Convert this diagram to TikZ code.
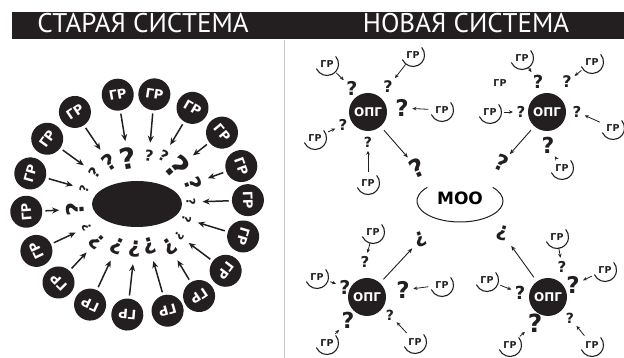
\documentclass[tikz,border=0pt]{standalone}
\usepackage{fontspec}
\setmainfont{PT Sans}
\newfontfamily\heavyfont{DejaVu Sans}
\usetikzlibrary{arrows.meta,shapes.geometric}

\definecolor{ink}{RGB}{35,31,32}
\definecolor{rulegray}{RGB}{200,200,200}
\newcommand{\fsz}[1]{\fontsize{#1}{#1}\selectfont}

\tikzset{
  title/.style={anchor=base, text=white, inner sep=0pt, font=\fsz{27}},
  grdot/.style={circle, fill=ink, minimum size=32pt, inner sep=0pt, text=white,
    font=\heavyfont\bfseries\fsz{13}},
  opg/.style={circle, fill=ink, minimum size=38pt, inner sep=0pt, text=white,
    font=\heavyfont\bfseries\fsz{12}},
  grlab/.style={inner sep=1pt, text=ink, font=\heavyfont\bfseries\fsz{9.5}},
  qm/.style={inner sep=0pt, text=ink, font=\heavyfont\bfseries\fsz{#1}},
  ringarrow/.style={-{Stealth[length=7pt,width=6pt]}, line width=1.5pt, draw=ink,
    shorten <=3pt, shorten >=7pt},
  feedarrow/.style={-{Stealth[length=4pt,width=3.5pt]}, line width=0.8pt, draw=ink,
    shorten <=6pt, shorten >=3.5pt},
  linkarrow/.style={-{Stealth[length=5pt,width=4pt]}, line width=0.9pt, draw=ink,
    shorten <=5pt},
  smile/.style={draw=ink, line width=1.1pt, line cap=round}
}

\begin{document}
\begin{tikzpicture}[x=1pt,y=1pt]
  \useasboundingbox (0,0) rectangle (624,358);

  % header
  \fill[ink] (12,319) rectangle (624,346);
  \node[title] (oldtitle) at (143,325) {СТАРАЯ СИСТЕМА};
  \node[title] (newtitle) at (466,325) {НОВАЯ СИСТЕМА};
  \draw[rulegray, line width=1pt] (284,0) -- (284,318);

  % old system: ring round one centre
  \begin{scope}[shift={(137,154)}]
    \node[ellipse, fill=ink, minimum width=90pt, minimum height=46pt, inner sep=0pt] (core) at (0,0) {};
    \foreach \a/\b/\r/\s [count=\i] in {2/2/54/12, 20/20/60/22, 40/42/55/32,
        60/61/55/15, 81/76/50/15, 100/101/46/29, 124/124/50/22, 144/144/53/15,
        164/164/55/12, 184/185/62/24, 205/205/56/12, 225/223/55/21,
        245/245/47/22, 265/267/45/22, 286/286/44/22, 304/307/54/22,
        323/323/53/12, 343/343/52/12} {
      \node[grdot, rotate=\a-90] (g\i) at (\a:111) {ГР};
      \node[qm=\s, rotate=\a-90] (q\i) at (\b:\r) {?};
      \draw[ringarrow] (g\i) -- (q\i);
    }
  \end{scope}

  % new system: four groups round one office
  \node[font=\heavyfont\bfseries\fsz{17}, inner sep=0pt] (moo) at (460,160) {МОО};
  \draw[smile, line width=1pt] (460,157) ++(140:43 and 21) arc[start angle=140, end angle=400, x radius=43, y radius=21];

  % top left
  \node[opg] (A) at (368,246) {ОПГ};
  \node[grlab] (ga1) at (327,294) {ГР};
  \node[grlab] (ga2) at (413,303) {ГР};
  \node[grlab] (ga3) at (442,248) {ГР};
  \node[grlab] (ga4) at (315,220) {ГР};
  \node[grlab] (ga5) at (368,175) {ГР};
  \node[qm=19] (qa1) at (352,270) {?};
  \node[qm=16] (qa2) at (388,271) {?};
  \node[qm=23] (qa3) at (402,250) {?};
  \node[qm=15] (qa4) at (343,233) {?};
  \node[qm=14] (qa5) at (368,216) {?};
  \node[qm=25, rotate=25] (qa6) at (417,190) {?};
  \foreach \n in {1,...,5} \draw[feedarrow] (ga\n) -- (qa\n);
  \draw[linkarrow, shorten >=4pt] (A) -- (qa6);

  % top right
  \node[opg] (B) at (547,246) {ОПГ};
  \node[grlab] (gb1) at (522,300) {ГР};
  \node[grlab] (gb2) at (500,275) {ГР};
  \node[grlab] (gb3) at (592,296) {ГР};
  \node[grlab] (gb4) at (490,246) {ГР};
  \node[grlab] (gb5) at (613,230) {ГР};
  \node[grlab] (gb6) at (562,190) {ГР};
  \node[qm=18] (qb1) at (538,276) {?};
  \node[qm=16] (qb3) at (567,276) {?};
  \node[qm=15] (qb4) at (521,246) {?};
  \node[qm=15] (qb5) at (577,246) {?};
  \node[qm=22] (qb6) at (548,213) {?};
  \node[qm=22, rotate=-25] (qb7) at (502,195) {?};
  \foreach \n in {1,3,4,5,6} \draw[feedarrow] (gb\n) -- (qb\n);
  \draw[linkarrow, shorten >=3pt] (B) -- (qb7);

  % bottom left
  \node[opg] (C) at (367,61) {ОПГ};
  \node[grlab] (gc1) at (373,126) {ГР};
  \node[grlab] (gc2) at (317,81) {ГР};
  \node[grlab] (gc3) at (442,73) {ГР};
  \node[grlab] (gc4) at (327,15) {ГР};
  \node[grlab] (gc5) at (415,16) {ГР};
  \node[qm=15] (qc1) at (365,96) {?};
  \node[qm=19] (qc2) at (345,71) {?};
  \node[qm=23] (qc3) at (403,68) {?};
  \node[qm=22] (qc4) at (348,38) {?};
  \node[qm=14] (qc5) at (390,43) {?};
  \node[qm=20, rotate=200] (qc6) at (421,119) {?};
  \foreach \n in {1,...,5} \draw[feedarrow] (gc\n) -- (qc\n);
  \draw[linkarrow, shorten >=6pt] (C) -- (qc6);

  % bottom right
  \node[opg] (D) at (548,61) {ОПГ};
  \node[grlab] (gd1) at (557,121) {ГР};
  \node[grlab] (gd2) at (605,88) {ГР};
  \node[grlab] (gd3) at (487,78) {ГР};
  \node[grlab] (gd4) at (510,13) {ГР};
  \node[grlab] (gd5) at (592,13) {ГР};
  \node[qm=15] (qd1) at (562,91) {?};
  \node[qm=23] (qd2) at (573,73) {?};
  \node[qm=18] (qd3) at (520,65) {?};
  \node[qm=25] (qd4) at (535,35) {?};
  \node[qm=14] (qd5) at (570,40) {?};
  \node[qm=20, rotate=165] (qd6) at (502,125) {?};
  \foreach \n in {1,...,5} \draw[feedarrow] (gd\n) -- (qd\n);
  \draw[linkarrow, shorten >=8pt] (D) -- (qd6);

  % arcs under the small group labels
  \foreach \n in {ga1,ga2,ga3,ga4,ga5,gb1,gb3,gb4,gb5,gb6,gc1,gc2,gc3,gc4,gc5,gd1,gd2,gd3,gd4,gd5}
    \draw[smile] ([shift={(205:11.5)}]\n.center) arc[start angle=205, end angle=400, radius=11.5];
\end{tikzpicture}
\end{document}
